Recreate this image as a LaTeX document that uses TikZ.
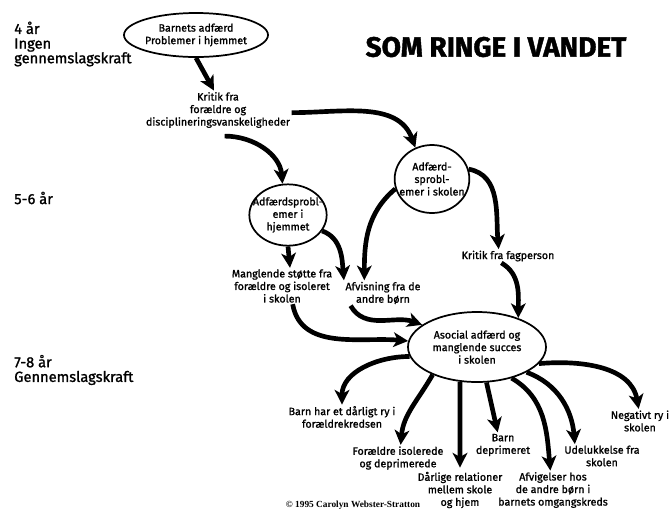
\documentclass[tikz,border=0pt]{standalone}
\usepackage{fontspec}
\setmainfont{Fira Sans}
\newfontfamily\lblfont{Fira Sans}[FakeBold=1.3]
\newfontfamily\titlefont{Fira Sans}[FakeBold=1.5]
\newfontfamily\copyfont{Liberation Serif}
\usetikzlibrary{arrows.meta,positioning,shapes.geometric}

\begin{document}
\begin{tikzpicture}[
    x=0.75pt, y=-0.75pt,
    txt/.style={align=center, inner sep=1pt, font=\lblfont\fontsize{8}{9.4}\selectfont},
    age/.style={anchor=west, align=left, inner sep=0pt, font=\lblfont\fontsize{11}{11}\selectfont},
    ring/.style={draw, ellipse, line width=1.3pt, inner sep=0pt},
    arrow/.style={-{Stealth[length=11pt,width=11pt,inset=3pt]}, line width=3.5pt}
  ]
    \useasboundingbox (0,0) rectangle (672,512);
    % left column: ages
    \node[age] (age4) at (14,44) {4 år\\Ingen\\gennemslagskraft};
    \node[age] (age56) at (14,198) {5-6 år};
    \node[age] (age78) at (14,370) {7-8 år\\Gennemslagskraft};
    \node[font=\titlefont\bfseries\fontsize{21}{24}\selectfont] (title) at (496,47) {SOM RINGE I VANDET};
    % rings and texts
    \node[ring, minimum width=108pt, minimum height=33pt,
      label={[txt]center:{Barnets adfærd\\Problemer i hjemmet}}] (barnets) at (196,35) {};
    \node[txt] (kritik) at (218,110) {Kritik fra\\forældre og\\disciplineringsvanskeligheder};
    \node[ring, minimum width=56pt, minimum height=51pt,
      label={[txt]center:{Adfærd-\\sprobl-\\emer i skolen}}] (skoleprob) at (432,179) {};
    \node[ring, minimum width=58pt, minimum height=46pt,
      label={[txt]center:{Adfærdsprobl-\\emer i\\hjemmet}}] (hjemprob) at (288,215) {};
    \node[txt] (fagperson) at (508,256) {Kritik fra fagperson};
    \node[txt] (stoette) at (282,286) {Manglende støtte fra\\forældre og isoleret\\i skolen};
    \node[txt] (afvisning) at (383,293) {Afvisning fra de\\andre børn};
    \node[ring, minimum width=103.5pt, minimum height=52.5pt,
      label={[txt]center:{Asocial adfærd og\\manglende succes\\i skolen}}] (asocial) at (477,347) {};
    \node[txt] (ryforaeldre) at (342,417) {Barn har et dårligt ry i\\forældrekredsen};
    \node[txt] (isolerede) at (398,458) {Forældre isolerede\\og deprimerede};
    \node[txt] (relationer) at (460,490) {Dårlige relationer\\mellem skole\\og hjem};
    \node[txt] (deprimeret) at (503,445) {Barn\\deprimeret};
    \node[txt] (afvigelser) at (553,490) {Afvigelser hos\\de andre børn i\\barnets omgangskreds};
    \node[txt] (udelukkelse) at (602,456) {Udelukkelse fra\\skolen};
    \node[txt] (negativt) at (640,421) {Negativt ry i\\skolen};
    \node[font=\copyfont\bfseries\fontsize{7}{8}\selectfont] (copyright) at (353,505) {© 1995 Carolyn Webster-Stratton};
    % arrows in
    \draw[arrow] (barnets.south) -- ([xshift=-3pt]kritik.north);
    \draw[arrow] ([yshift=-2pt]kritik.east) to[out=0, in=110] (skoleprob.118);
    \draw[arrow] ([shift={(5pt,-5pt)}]kritik.south) to[out=0, in=95] (hjemprob.100);
    \draw[arrow] (hjemprob.south) -- ([xshift=6pt]stoette.north);
    \draw[arrow] (hjemprob.-25) to[out=-20, in=95] (afvisning.north west);
    \draw[arrow] (skoleprob.195) to[out=220, in=90] ([xshift=-14pt]afvisning.north);
    \draw[arrow] (skoleprob.15) to[out=-10, in=95] ([xshift=-7pt]fagperson.north);
    \draw[arrow] ([xshift=-5pt]fagperson.south) to[out=-30, in=90] (asocial.35);
    \draw[arrow] ([xshift=8pt]stoette.south) to[out=-80, in=175] (asocial.175);
    \draw[arrow] ([xshift=5pt]afvisning.south west) to[out=-60, in=160] (asocial.158);
    % arrows out
    \draw[arrow] (asocial.188) to[out=180, in=90] (ryforaeldre.north);
    \draw[arrow] (asocial.-148) to[out=240, in=85] ([xshift=2pt]isolerede.north);
    \draw[arrow] (asocial.-116) -- ([yshift=2pt]relationer.north);
    \draw[arrow] (asocial.-75) -- ([xshift=-4pt]deprimeret.north);
    \draw[arrow] (asocial.-42) to[out=-30, in=95] ([xshift=-2pt]afvigelser.north);
    \draw[arrow] (asocial.-27) to[out=-20, in=95] ([xshift=9pt]udelukkelse.north west);
    \draw[arrow] (asocial.-15) to[out=5, in=100] ([xshift=-1pt]negativt.north);
\end{tikzpicture}
\end{document}
